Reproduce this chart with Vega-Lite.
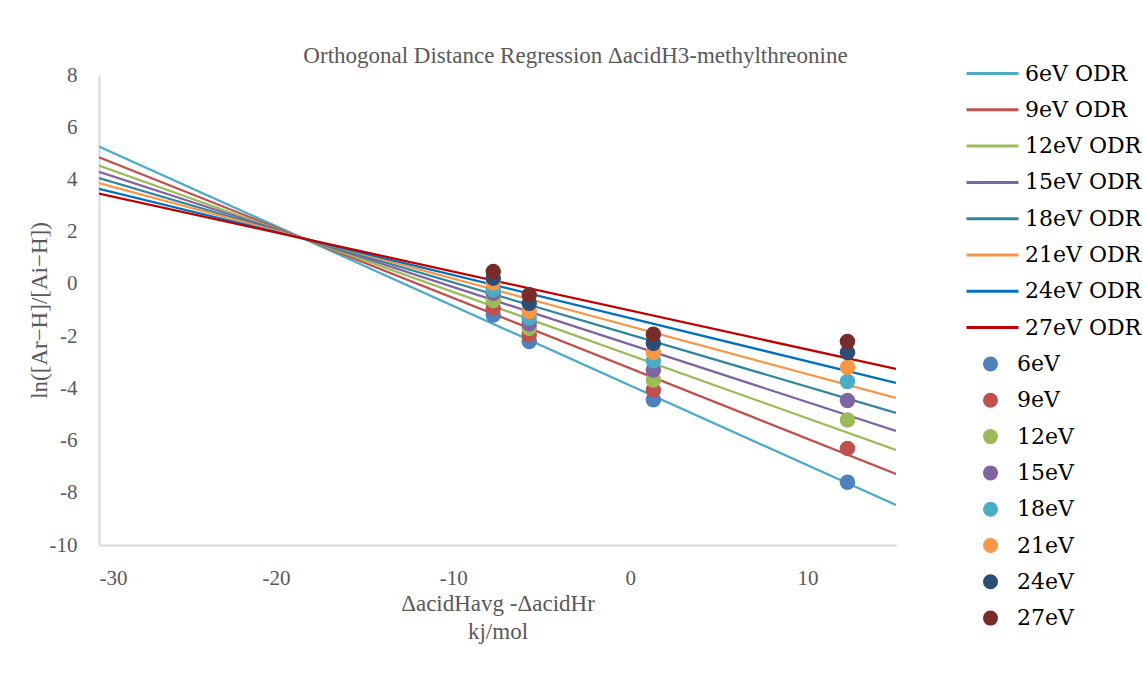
{
  "$schema": "https://vega.github.io/schema/vega-lite/v6.json",
  "width": 797,
  "height": 470,
  "autosize": {"type": "none"},
  "padding": {"left": 99, "top": 75, "right": 247, "bottom": 130},
  "background": "white",
  "title": {
    "text": "Orthogonal Distance Regression ΔacidH3-methylthreonine",
    "font": "Liberation Serif",
    "fontSize": 23,
    "fontWeight": "normal",
    "color": "#595959",
    "anchor": "middle",
    "dx": 78,
    "offset": -6
  },
  "config": {
    "view": {"stroke": null},
    "axis": {
      "grid": false,
      "ticks": false,
      "domainColor": "#D9D9D9",
      "domainWidth": 2,
      "labelFont": "Liberation Serif",
      "labelFontSize": 21,
      "labelColor": "#595959",
      "titleFont": "Liberation Serif",
      "titleFontSize": 23,
      "titleFontWeight": "normal",
      "titleColor": "#595959"
    },
    "legend": {
      "labelFont": "DejaVu Serif",
      "labelFontSize": 22,
      "labelColor": "#000000",
      "padding": 0,
      "title": null
    }
  },
  "datasets": {
    "lines": [
      {"series": "6eV ODR", "x": -30, "y": 5.26}, {"series": "6eV ODR", "x": 15, "y": -8.47},
      {"series": "9eV ODR", "x": -30, "y": 4.85}, {"series": "9eV ODR", "x": 15, "y": -7.28},
      {"series": "12eV ODR", "x": -30, "y": 4.53}, {"series": "12eV ODR", "x": 15, "y": -6.36},
      {"series": "15eV ODR", "x": -30, "y": 4.29}, {"series": "15eV ODR", "x": 15, "y": -5.63},
      {"series": "18eV ODR", "x": -30, "y": 4.05}, {"series": "18eV ODR", "x": 15, "y": -4.94},
      {"series": "21eV ODR", "x": -30, "y": 3.86}, {"series": "21eV ODR", "x": 15, "y": -4.37},
      {"series": "24eV ODR", "x": -30, "y": 3.64}, {"series": "24eV ODR", "x": 15, "y": -3.79},
      {"series": "27eV ODR", "x": -30, "y": 3.46}, {"series": "27eV ODR", "x": 15, "y": -3.26}
    ],
    "points": [
      {"energy": "6eV", "x": -7.74, "y": -1.19}, {"energy": "6eV", "x": -5.71, "y": -2.21}, {"energy": "6eV", "x": 1.3, "y": -4.44}, {"energy": "6eV", "x": 12.26, "y": -7.6},
      {"energy": "9eV", "x": -7.74, "y": -0.93}, {"energy": "9eV", "x": -5.71, "y": -1.95}, {"energy": "9eV", "x": 1.3, "y": -4.06}, {"energy": "9eV", "x": 12.26, "y": -6.3},
      {"energy": "12eV", "x": -7.74, "y": -0.64}, {"energy": "12eV", "x": -5.71, "y": -1.7}, {"energy": "12eV", "x": 1.3, "y": -3.68}, {"energy": "12eV", "x": 12.26, "y": -5.21},
      {"energy": "15eV", "x": -7.74, "y": -0.36}, {"energy": "15eV", "x": -5.71, "y": -1.53}, {"energy": "15eV", "x": 1.3, "y": -3.3}, {"energy": "15eV", "x": 12.26, "y": -4.47},
      {"energy": "18eV", "x": -7.74, "y": -0.23}, {"energy": "18eV", "x": -5.71, "y": -1.31}, {"energy": "18eV", "x": 1.3, "y": -2.94}, {"energy": "18eV", "x": 12.26, "y": -3.74},
      {"energy": "21eV", "x": -7.74, "y": 0.03}, {"energy": "21eV", "x": -5.71, "y": -1.06}, {"energy": "21eV", "x": 1.3, "y": -2.63}, {"energy": "21eV", "x": 12.26, "y": -3.19},
      {"energy": "24eV", "x": -7.74, "y": 0.22}, {"energy": "24eV", "x": -5.71, "y": -0.74}, {"energy": "24eV", "x": 1.3, "y": -2.27}, {"energy": "24eV", "x": 12.26, "y": -2.63},
      {"energy": "27eV", "x": -7.74, "y": 0.47}, {"energy": "27eV", "x": -5.71, "y": -0.42}, {"energy": "27eV", "x": 1.3, "y": -1.93}, {"energy": "27eV", "x": 12.26, "y": -2.21}
    ]
  },
  "encoding": {
    "x": {
      "field": "x", "type": "quantitative",
      "scale": {"domain": [-30, 15], "nice": false, "zero": false},
      "axis": {
        "values": [-30, -20, -10, 0, 10],
        "labelExpr": "datum.value < 0 ? '-' + abs(datum.value) : '' + datum.value",
        "labelPadding": 22,
        "title": ["ΔacidHavg -ΔacidHr", "kj/mol"],
        "titlePadding": 4,
        "titleLineHeight": 28
      }
    },
    "y": {
      "field": "y", "type": "quantitative",
      "scale": {"domain": [-10, 8], "nice": false, "zero": false},
      "axis": {
        "values": [-10, -8, -6, -4, -2, 0, 2, 4, 6, 8],
        "labelExpr": "datum.value < 0 ? '-' + abs(datum.value) : '' + datum.value",
        "labelPadding": 22,
        "title": "ln([Ar−H]/[Ai−H])",
        "titlePadding": -2
      }
    }
  },
  "layer": [
    {
      "data": {"name": "lines"},
      "mark": {"type": "line", "strokeWidth": 2.25, "clip": true},
      "encoding": {
        "stroke": {
          "field": "series", "type": "nominal",
          "scale": {
            "domain": ["6eV ODR", "9eV ODR", "12eV ODR", "15eV ODR", "18eV ODR", "21eV ODR", "24eV ODR", "27eV ODR"],
            "range": ["#4BACC6", "#C0504D", "#9BBB59", "#8064A2", "#31859C", "#F79646", "#0070C0", "#C00000"]
          },
          "legend": {
            "orient": "none",
            "legendX": 882,
            "legendY": -13,
            "rowPadding": 13.3,
            "symbolType": "M-2.6,0H2.6",
            "symbolSize": 400,
            "symbolStrokeWidth": 3,
            "labelOffset": 21
          }
        }
      }
    },
    {
      "data": {"name": "points"},
      "mark": {"type": "circle", "size": 240, "opacity": 1},
      "encoding": {
        "fill": {
          "field": "energy", "type": "nominal",
          "scale": {
            "domain": ["6eV", "9eV", "12eV", "15eV", "18eV", "21eV", "24eV", "27eV"],
            "range": ["#4F81BD", "#C0504D", "#9BBB59", "#8064A2", "#4BACC6", "#F79646", "#2C4D75", "#772C2A"]
          },
          "legend": {
            "orient": "none",
            "legendX": 880.5,
            "legendY": 278,
            "rowPadding": 14.3,
            "symbolType": "circle",
            "symbolSize": 225,
            "symbolOpacity": 1,
            "labelOffset": 15.5
          }
        }
      }
    }
  ]
}
